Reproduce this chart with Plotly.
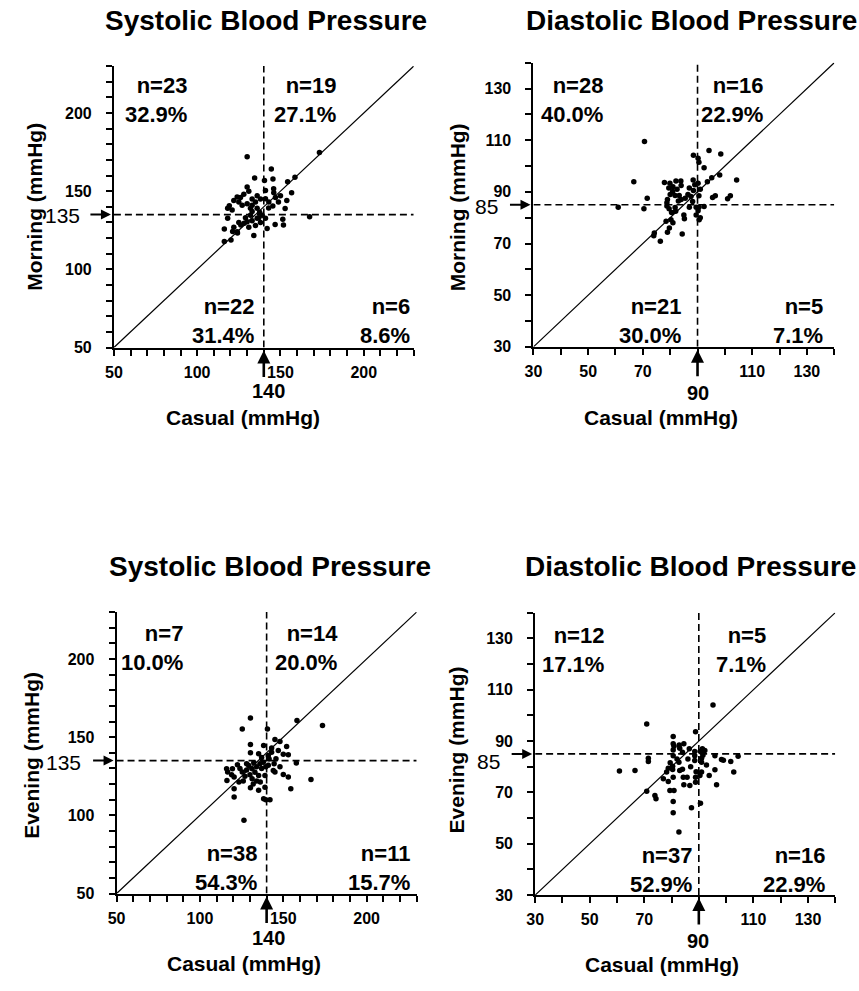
import plotly.graph_objects as go

W, H = 859, 991

# ---------------- data ----------------
# Systolic, casual vs morning
sys_m_x = [130, 134.5, 130, 124, 122, 133, 135, 119.3, 118.3, 130, 136, 133, 137.5, 128, 126, 131, 127, 121, 133, 125, 136, 138, 132,
           173.4, 144.5, 140.4, 145.5, 158.7, 154.3, 141, 145.9, 146, 141, 156.7, 153.8, 148.8, 142.9, 145.4, 152.8, 147, 143, 150,
           132, 139, 118.3, 136, 130, 128.2, 126.2, 116.3, 121.3, 124.2, 134, 116.3, 120.3, 124, 133, 135, 137, 131, 138, 125, 129, 122,
           167.5, 141, 151.4, 146.8, 151.8, 142]
sys_m_y = [172, 158.5, 152.6, 146.3, 144, 145, 143, 140.6, 139, 142, 139, 137, 136.5, 148, 146, 150, 141, 138, 141, 143, 147, 145, 139,
           174.7, 164.2, 156.8, 157.8, 158.9, 156.1, 150.4, 151.5, 149, 145.2, 149, 144.1, 143.1, 139.3, 140.5, 138.9, 146, 143, 147,
           134.6, 134.6, 132.6, 132.6, 130.5, 129.5, 128.3, 125.8, 124.2, 123.2, 121.6, 117.8, 118.8, 124, 131, 128, 133, 127, 130, 130, 133, 127,
           133.6, 132.6, 132, 128.6, 128.3, 126.2]

# Diastolic, casual vs morning
dia_m_x = [70.6, 66.7, 71.6, 88.5, 77.9, 79.9, 82.1, 83.9, 80.9, 81.8, 83.3, 78.8, 88.4, 88.5, 87.6, 88.2, 79.5, 82.5, 84, 80, 85.5, 86.5, 83, 79, 84, 81, 87, 89,
           90.2, 90.5, 94.2, 98.5, 92.4, 98.1, 104.3, 93.6, 95.2, 96.5, 95.5, 102, 101, 90.2, 91, 90.5,
           61, 70.4, 79.6, 81.8, 85.2, 84.4, 78.5, 80.3, 79.7, 79, 74.2, 76.4, 78.8, 80.5, 81, 82, 87, 89.5, 85, 74, 89.5,
           92.4, 90.2, 90.6, 91, 90.5]
dia_m_y = [109.5, 93.9, 87.5, 104.2, 93.6, 93.3, 94.2, 94.2, 90.1, 88.6, 88.6, 85.8, 94.6, 90.5, 88.2, 86.3, 91.5, 91, 87, 89, 87.5, 89, 86.5, 87, 92.5, 92, 91.5, 92.8,
           103, 101.5, 106, 104.7, 99.3, 96.5, 94.6, 93.9, 95.5, 88.5, 87.8, 88.5, 87.3, 93.3, 91, 88.5,
           84, 83.5, 83.5, 83.9, 79.6, 73.7, 78.6, 79.2, 76, 74.4, 74.1, 70.9, 84.5, 82, 78, 82.5, 84, 84, 81, 73, 81,
           84.3, 82.7, 79.2, 80, 84]

# Systolic, casual vs evening
sys_e_x = [130.3, 125.4, 130.3, 138.2, 135.2, 130.3, 137,
           158.2, 173.5, 140.5, 145, 148, 152, 147, 153, 141, 143, 145.6, 143, 150, 141.5,
           132.3, 129.3, 122.5, 119.5, 116, 116.6, 125.4, 131.3, 116.2, 120.5, 123.4, 131.3, 135.2, 139, 136.2, 130.3, 135.2, 139, 120.5,
           120.5, 138.2, 126.4, 138, 134, 128, 133, 127, 124, 137, 130, 132, 126, 136, 139.5, 128, 119, 134, 139.5,
           157.8, 144, 145, 150, 153, 166.6, 154.5, 142, 148, 141, 144.5]
sys_e_y = [162.3, 155.3, 145.3, 144.7, 139.4, 140, 137,
           160.6, 157.4, 155.3, 148.5, 147.2, 144, 141.5, 138.7, 138.2, 140.4, 136.2, 143, 139, 136,
           133.6, 131.9, 132.3, 129.8, 129.8, 127.7, 127.7, 129.8, 122.3, 124.5, 121.3, 123.4, 125.5, 125.5, 121.3, 117.7, 116, 118, 117,
           111.7, 110.6, 96.8, 134, 131, 129, 127.5, 125, 130, 130, 126, 120, 122, 133, 131, 133, 126, 122, 110,
           133.4, 128.7, 127.7, 126.2, 124.5, 123, 117, 110, 131, 132, 133]

# Diastolic, casual vs evening
dia_e_x = [70.9, 88.8, 80.6, 80.6, 80.9, 82.8, 83, 84.5, 84, 88.5, 80.6, 86.5,
           95.2, 91.3, 92.2, 90.5, 91,
           82.7, 80.6, 71.5, 71.5, 60.9, 66.6, 88.5, 88.5, 88.8, 88.8, 86.7, 84.5, 84.3, 85.7, 83, 80.4, 80.4, 78.8, 78.2, 80.6,
           77, 78.8, 79.4, 80.9, 73.9, 74.3, 70.9, 80.6, 87.3, 80.6, 82.7, 86, 82, 79.5, 84, 87, 89,
           91, 91, 92.8, 95.9, 98.3, 99, 101.7, 104.4, 102.8, 95.9, 93.8, 96.5, 91, 90.4, 90.6, 91.5]
dia_e_y = [96.6, 93.6, 91.8, 88.9, 88, 88.5, 87.2, 88.9, 85.6, 85.9, 86.5, 87,
           104, 87, 86.3, 86, 85.6,
           81.7, 84.3, 83.3, 82, 78.3, 78.5, 84.3, 82.4, 74, 75.9, 72.7, 73, 75.9, 75.9, 78.5, 80.2, 78.9, 79.4, 77.9, 75.9,
           75.3, 74.2, 70.7, 70.7, 68.8, 67.5, 70.4, 66.5, 64, 62.1, 54.6, 83, 83, 81.5, 79, 80, 78,
           83.3, 81.7, 80.7, 84.3, 82.8, 82.5, 82, 84.1, 77.9, 78.8, 76.6, 73, 77.9, 76.6, 65.8, 84.5]

# quadrant counts (UL, UR, LL, LR)
sys_m_n = ["n=23", "n=19", "n=22", "n=6"]
sys_m_pct = ["32.9%", "27.1%", "31.4%", "8.6%"]
dia_m_n = ["n=28", "n=16", "n=21", "n=5"]
dia_m_pct = ["40.0%", "22.9%", "30.0%", "7.1%"]
sys_e_n = ["n=7", "n=14", "n=38", "n=11"]
sys_e_pct = ["10.0%", "20.0%", "54.3%", "15.7%"]
dia_e_n = ["n=12", "n=5", "n=37", "n=16"]
dia_e_pct = ["17.1%", "7.1%", "52.9%", "22.9%"]

# axis ranges, ticks and thresholds
sys_range = [50, 230]
dia_range = [30, 140]
sys_ticks = list(range(50, 231, 10))
dia_ticks = list(range(30, 141, 10))
sys_x_labels = [50, 100, 150, 200]
sys_y_labels = [50, 100, 150, 200]
dia_x_labels = [30, 50, 70, 110, 130]
dia_y_labels = [30, 50, 70, 90, 110, 130]
sys_cut_x, sys_cut_y = 140, 135
dia_cut_x, dia_cut_y = 90, 85

titles = ["Systolic Blood Pressure", "Diastolic Blood Pressure",
          "Systolic Blood Pressure", "Diastolic Blood Pressure"]
y_titles = ["Morning (mmHg)", "Morning (mmHg)", "Evening (mmHg)", "Evening (mmHg)"]
x_title = "Casual (mmHg)"

# ---------------- layout helpers (screen-pixel geometry) ----------------
def px(x):
    return x / W

def py(y):
    return 1 - y / H

panels = [
    dict(xs=sys_m_x, ys=sys_m_y, n=sys_m_n, pct=sys_m_pct, rng=sys_range, ticks=sys_ticks,
         xl=sys_x_labels, yl=sys_y_labels, cx=sys_cut_x, cy=sys_cut_y,
         box=(106, 409, 66.7, 350.7), title=(260, 21), xt=(236, 421), yt=(25, 209),
         q=[(182, 101), (332, 101), (250, 324), (407, 324)],
         xarr=(262, 395), yarr=(54, 217)),
    dict(xs=dia_m_x, ys=dia_m_y, n=dia_m_n, pct=dia_m_pct, rng=dia_range, ticks=dia_ticks,
         xl=dia_x_labels, yl=dia_y_labels, cx=dia_cut_x, cy=dia_cut_y,
         box=(530, 834, 63.3, 350), title=(690, 21), xt=(659, 421), yt=(453, 209),
         q=[(602, 101), (764, 101), (681, 324), (825, 324)],
         xarr=(696, 397), yarr=(483, 208)),
    dict(xs=sys_e_x, ys=sys_e_y, n=sys_e_n, pct=sys_e_pct, rng=sys_range, ticks=sys_ticks,
         xl=sys_x_labels, yl=sys_y_labels, cx=sys_cut_x, cy=sys_cut_y,
         box=(108.7, 412, 617.7, 901.7), title=(264, 572), xt=(237, 972), yt=(22, 762),
         q=[(178, 654), (334, 654), (253, 876), (407, 876)],
         xarr=(262, 947), yarr=(55, 769)),
    dict(xs=dia_e_x, ys=dia_e_y, n=dia_e_n, pct=dia_e_pct, rng=dia_range, ticks=dia_ticks,
         xl=dia_x_labels, yl=dia_y_labels, cx=dia_cut_x, cy=dia_cut_y,
         box=(531.7, 835, 618.3, 903.3), title=(689, 572), xt=(660, 973), yt=(452, 757),
         q=[(603, 656), (767, 656), (692, 878), (827, 878)],
         xarr=(696, 950), yarr=(485, 768)),
]

FONT = "Liberation Sans, Arial, sans-serif"
fig = go.Figure()
annotations = []
layout = dict(width=W, height=H, margin=dict(l=0, r=0, t=0, b=0),
              paper_bgcolor="white", plot_bgcolor="white", showlegend=False)

for i, p in enumerate(panels, start=1):
    xa = "x" if i == 1 else f"x{i}"
    ya = "y" if i == 1 else f"y{i}"
    x0, x1, ytop, ybot = p["box"]
    lo, hi = p["rng"]

    # line of identity
    fig.add_trace(go.Scatter(x=p["rng"], y=p["rng"], mode="lines",
                             line=dict(color="black", width=1.2),
                             xaxis=xa, yaxis=ya, hoverinfo="skip"))
    # threshold dashed lines
    fig.add_trace(go.Scatter(x=[p["cx"], p["cx"]], y=p["rng"], mode="lines",
                             line=dict(color="black", width=1.6, dash="7px,4px"),
                             xaxis=xa, yaxis=ya, hoverinfo="skip"))
    fig.add_trace(go.Scatter(x=p["rng"], y=[p["cy"], p["cy"]], mode="lines",
                             line=dict(color="black", width=1.6, dash="7px,4px"),
                             xaxis=xa, yaxis=ya, hoverinfo="skip"))
    # data points
    fig.add_trace(go.Scatter(x=p["xs"], y=p["ys"], mode="markers",
                             marker=dict(color="black", size=5.5),
                             xaxis=xa, yaxis=ya, cliponaxis=False))

    axis_common = dict(showline=True, linecolor="black", linewidth=2,
                       ticks="outside", ticklen=6, tickwidth=1.6, tickcolor="black",
                       showgrid=False, zeroline=False, range=[lo, hi],
                       tickmode="array", tickvals=p["ticks"],
                       tickfont=dict(family=FONT, size=16, color="black", weight="bold"))
    layout["xaxis" if i == 1 else f"xaxis{i}"] = dict(
        axis_common, domain=[px(x0), px(x1)], anchor=ya,
        ticktext=[str(t) if t in p["xl"] else "" for t in p["ticks"]],
        ticklabelstandoff=3)
    layout["yaxis" if i == 1 else f"yaxis{i}"] = dict(
        axis_common, domain=[py(ybot), py(ytop)], anchor=xa,
        ticktext=[str(t) if t in p["yl"] else "" for t in p["ticks"]],
        ticklabelstandoff=11)

    # panel title
    annotations.append(dict(text=f"<b>{titles[i-1]}</b>", x=px(p["title"][0]), y=py(p["title"][1]),
                            xref="paper", yref="paper", showarrow=False,
                            xanchor="center", yanchor="middle",
                            font=dict(family=FONT, size=28, color="black")))
    # axis titles
    annotations.append(dict(text=f"<b>{x_title}</b>", x=px(p["xt"][0]), y=py(p["xt"][1]),
                            xref="paper", yref="paper", showarrow=False,
                            xanchor="center", yanchor="middle",
                            font=dict(family=FONT, size=21, color="black")))
    annotations.append(dict(text=f"<b>{y_titles[i-1]}</b>", x=px(p["yt"][0]), y=py(p["yt"][1]),
                            xref="paper", yref="paper", showarrow=False, textangle=-90,
                            xanchor="center", yanchor="middle",
                            font=dict(family=FONT, size=21, color="black")))
    # quadrant counts
    for (qx, qy), nt, pt in zip(p["q"], p["n"], p["pct"]):
        annotations.append(dict(text=f"<b>{nt}</b><br><b>{pt}</b>", x=px(qx), y=py(qy),
                                xref="paper", yref="paper", showarrow=False,
                                xanchor="right", yanchor="middle", align="right",
                                font=dict(family=FONT, size=22, color="black")))
    # threshold arrows and labels
    annotations.append(dict(text="", x=p["cx"], y=py(ybot + 3), xref=xa, yref="paper",
                            showarrow=True, ax=0, ay=28, arrowhead=2, arrowsize=1,
                            arrowwidth=2.6, arrowcolor="black"))
    annotations.append(dict(text=f"<b>{p['cx']}</b>", x=px(p["xarr"][0]), y=py(p["xarr"][1]),
                            xref="paper", yref="paper", showarrow=False,
                            xanchor="center", yanchor="middle",
                            font=dict(family=FONT, size=20, color="black")))
    annotations.append(dict(text="", x=px(x0 - 3), y=p["cy"], xref="paper", yref=ya,
                            showarrow=True, ax=-22, ay=0, arrowhead=2, arrowsize=1,
                            arrowwidth=2, arrowcolor="black"))
    annotations.append(dict(text=str(p["cy"]), x=px(p["yarr"][0]), y=py(p["yarr"][1]),
                            xref="paper", yref="paper", showarrow=False,
                            xanchor="center", yanchor="middle",
                            font=dict(family=FONT, size=21, color="black")))

layout["annotations"] = annotations
fig.update_layout(**layout)
# remove the default page margin so the figure sits at the window's top-left corner
fig.write_html("out.html", config={"displayModeBar": False},
               post_script="document.body.style.margin='0';document.body.style.overflow='hidden';")
